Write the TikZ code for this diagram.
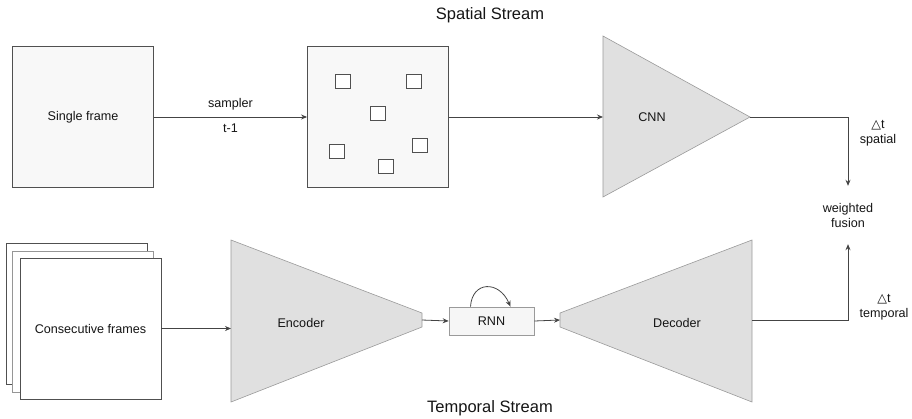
\documentclass[tikz,border=0pt]{standalone}
\usepackage{fontspec}
\setmainfont{Liberation Sans}
\newfontfamily\symfont{DejaVu Sans}
\usetikzlibrary{arrows.meta}

\definecolor{linegray}{HTML}{444444}
\definecolor{boxedge}{HTML}{505050}
\definecolor{boxfill}{HTML}{F8F8F8}
\definecolor{netfill}{HTML}{E0E0E0}
\definecolor{netedge}{HTML}{9A9A9A}
\definecolor{txt}{HTML}{151515}

\tikzset{
  lbl/.style={font=\fontsize{12.6}{15}\selectfont, text=txt, inner sep=0pt, align=center},
  title/.style={font=\fontsize{16.5}{19}\selectfont, text=txt, inner sep=0pt},
  framebox/.style={draw=boxedge, fill=boxfill, line width=0.9pt, inner sep=0pt,
    minimum width=141pt, minimum height=141pt, lbl},
  stackbox/.style={framebox, fill=white},
  patch/.style={draw=boxedge, line width=0.9pt, fill=white, minimum width=15pt,
    minimum height=14pt, inner sep=0pt},
  netshape/.style={fill=netfill, draw=netedge, line width=0.6pt},
  rnnbox/.style={draw=netedge, fill=boxfill!90!netfill, line width=0.7pt,
    minimum width=85pt, minimum height=28pt, inner sep=0pt, lbl},
  conn/.style={draw=linegray, line width=0.8pt, -{Stealth[length=6pt,width=5pt]}},
}

\begin{document}
\begin{tikzpicture}[x=1pt,y=-1pt]
\useasboundingbox (0,0) rectangle (912,418);

% stream titles
\node[title] (tspatial) at (490,15) {Spatial Stream};
\node[title] (ttemporal) at (490,408) {Temporal Stream};

% ---------- spatial stream ----------
\node[framebox] (single) at (83,117) {Single frame};
\node[framebox] (sampled) at (378,117) {};
\node[patch] (p1) at (343,81) {};
\node[patch] (p2) at (414,81) {};
\node[patch] (p3) at (378,113) {};
\node[patch] (p4) at (337,151) {};
\node[patch] (p5) at (420,145) {};
\node[patch] (p6) at (386,166) {};

% CNN
\coordinate (cnnIn) at (603,117);
\coordinate (cnnOut) at (750,117);
\draw[netshape] (603,36) -- (750,117) -- (603,197) -- cycle;
\node[lbl] (cnn) at (652,117) {CNN};

\draw[conn] (single.east) -- (sampled.west)
  node[lbl, midway, above=6pt] (lsampler) {sampler}
  node[lbl, midway, below=6pt] (lt) {t-1};
\draw[conn] (sampled.east) -- (cnnIn);

% fusion
\node[lbl, minimum height=58pt] (fusion) at (848,215) {weighted\\fusion};
\draw[conn] (cnnOut) -| (fusion.north);
\node[lbl] (dspatial) at (878,133) {{\symfont △}t\\spatial};

% ---------- temporal stream ----------
\node[stackbox] (f3) at (76.5,314) {};
\node[stackbox, draw=boxedge!60] (f2) at (83,322) {};
\node[stackbox] (f1) at (90.5,328.5) {Consecutive frames};

% encoder
\coordinate (encIn) at (231,328.5);
\coordinate (encOut) at (422,320);
\draw[netshape] (231,240) -- (422,313) -- (422,327) -- (231,402) -- cycle;
\node[lbl] (enc) at (301,323) {Encoder};

% decoder
\coordinate (decIn) at (560,320);
\coordinate (decOut) at (752,320);
\draw[netshape] (752,240) -- (560,313) -- (560,327) -- (752,402) -- cycle;
\node[lbl] (dec) at (677,323) {Decoder};

\node[rnnbox] (rnn) at (491.5,321) {RNN};

\draw[conn] (f1.east) -- (encIn);
\draw[conn] (encOut) -- (rnn.west);
\draw[conn] (rnn.east) -- (decIn);
\draw[conn] ([xshift=-21pt]rnn.north) .. controls (472,281) and (499,280) .. ([xshift=19pt]rnn.north);

\draw[conn] (decOut) -| (fusion.south);
\node[lbl] (dtemporal) at (884,307) {{\symfont △}t\\temporal};
\end{tikzpicture}
\end{document}
